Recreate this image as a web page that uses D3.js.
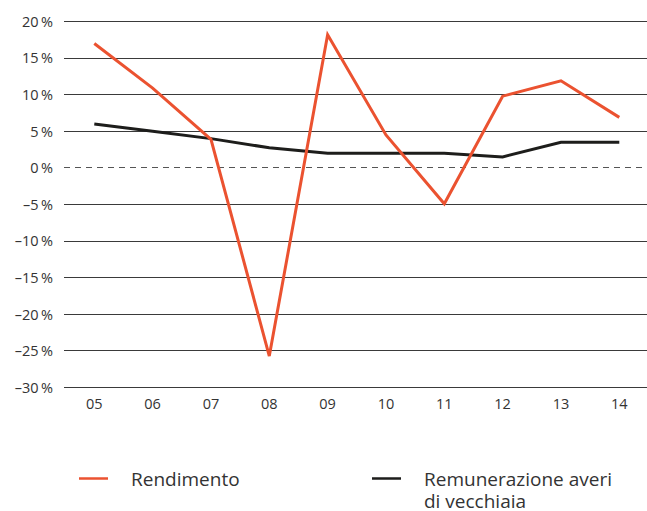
<!DOCTYPE html>
<html>
<head>
<meta charset="utf-8">
<script src="https://cdn.jsdelivr.net/npm/d3@7"></script>
<style>
  html, body { margin: 0; padding: 0; background: #fff; }
  svg { display: block; font-family: "Open Sans", "Noto Sans", sans-serif; }
</style>
</head>
<body>
<svg id="chart" width="647" height="511"></svg>
<script>
const years = ["05", "06", "07", "08", "09", "10", "11", "12", "13", "14"];
const rendimento = [17.0, 10.9, 3.9, -25.7, 18.2, 4.5, -4.9, 9.8, 11.9, 6.9];
const remunerazione = [6.0, 5.0, 4.0, 2.75, 2.0, 2.0, 2.0, 1.5, 3.5, 3.5];
const yTicks = [20, 15, 10, 5, 0, -5, -10, -15, -20, -25, -30];
const seriesNames = ["Rendimento", "Remunerazione averi|di vecchiaia"];
const seriesColors = ["#EB5230", "#1d1d1b"];

const svg = d3.select("#chart");

const x = d3.scalePoint().domain(years).range([94.3, 619.3]);
const y = d3.scaleLinear().domain([-30, 20]).range([387.5, 21.5]);

const gridLeft = 64, gridRight = 647;
const crisp = v => Math.floor(v) + 0.5;

// gridlines
const grid = svg.append("g");
grid.selectAll("line")
  .data(yTicks)
  .join("line")
  .attr("x1", gridLeft)
  .attr("x2", gridRight)
  .attr("y1", d => crisp(y(d)))
  .attr("y2", d => crisp(y(d)))
  .attr("stroke", d => d === 0 ? "#555" : "#3a3a3a")
  .attr("stroke-width", 1)
  .attr("stroke-dasharray", d => d === 0 ? "6,5" : null);

// y labels
const fmt = d => (d < 0 ? "\u2013" + Math.abs(d) : String(d)) + "\u2009%";
svg.append("g").selectAll("text")
  .data(yTicks)
  .join("text")
  .attr("x", 53)
  .attr("y", d => y(d))
  .attr("dy", "0.36em")
  .attr("text-anchor", "end")
  .attr("font-size", 14.5)
  .attr("fill", "#333")
  .text(fmt);

// x labels
svg.append("g").selectAll("text")
  .data(years)
  .join("text")
  .attr("x", d => x(d))
  .attr("y", 409)
  .attr("text-anchor", "middle")
  .attr("font-size", 14.5)
  .attr("fill", "#333")
  .text(d => d);

const line = d3.line()
  .x((d, i) => x(years[i]))
  .y(d => y(d));

svg.append("path")
  .datum(remunerazione)
  .attr("d", line)
  .attr("fill", "none")
  .attr("stroke", seriesColors[1])
  .attr("stroke-width", 3);

svg.append("path")
  .datum(rendimento)
  .attr("d", line)
  .attr("fill", "none")
  .attr("stroke", seriesColors[0])
  .attr("stroke-width", 3);

// legend
const legendX = [79, 372];
const leg = svg.append("g");
seriesNames.forEach((name, i) => {
  leg.append("line")
    .attr("x1", legendX[i]).attr("x2", legendX[i] + 29)
    .attr("y1", 478.5).attr("y2", 478.5)
    .attr("stroke", seriesColors[i])
    .attr("stroke-width", 2.5);
  name.split("|").forEach((part, j) => {
    leg.append("text")
      .attr("x", legendX[i] + 52)
      .attr("y", 485.5 + j * 22)
      .attr("font-size", 19)
      .attr("fill", "#333")
      .text(part);
  });
});
</script>
</body>
</html>
